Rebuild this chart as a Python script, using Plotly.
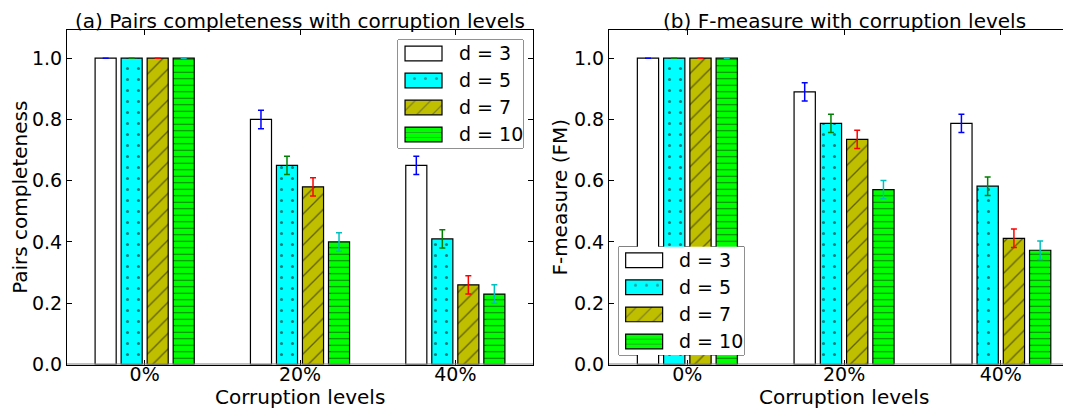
import plotly.graph_objects as go

categories = ["0%", "20%", "40%"]
series_names = ["d = 3", "d = 5", "d = 7", "d = 10"]

pc_values = {
    "d = 3": [1.0, 0.80, 0.65],
    "d = 5": [1.0, 0.65, 0.41],
    "d = 7": [1.0, 0.58, 0.26],
    "d = 10": [1.0, 0.40, 0.23],
}
pc_errors = {
    "d = 3": [0.0, 0.03, 0.03],
    "d = 5": [0.0, 0.03, 0.03],
    "d = 7": [0.0, 0.03, 0.03],
    "d = 10": [0.0, 0.03, 0.03],
}
fm_values = {
    "d = 3": [1.0, 0.89, 0.787],
    "d = 5": [1.0, 0.787, 0.582],
    "d = 7": [1.0, 0.735, 0.412],
    "d = 10": [1.0, 0.571, 0.373],
}
fm_errors = {
    "d = 3": [0.0, 0.03, 0.03],
    "d = 5": [0.0, 0.03, 0.03],
    "d = 7": [0.0, 0.03, 0.03],
    "d = 10": [0.0, 0.03, 0.03],
}

fill_colors = ["#FFFFFF", "#00FFFF", "#BFBF00", "#00FF00"]
pattern_shapes = ["", ".", "/", "-"]
pattern_sizes = [8, 11, 11, 6.5]
pattern_solidity = [0.1, 0.06, 0.12, 0.16]
err_colors = ["#0000FF", "#008000", "#FF0000", "#00BFBF"]

FONT = "DejaVu Sans"
OFF = 8            # page body margin offset
W, H = 1071 - OFF, 408 - OFF

def px_x(p):
    return (p - OFF) / W

def px_y(p):
    return (H - (p - OFF)) / H

fig = go.Figure()

for values, errors, xa, ya in [(pc_values, pc_errors, "x", "y"), (fm_values, fm_errors, "x2", "y2")]:
    for i, name in enumerate(series_names):
        fig.add_trace(go.Bar(
            x=categories, y=values[name], name=name, xaxis=xa, yaxis=ya,
            showlegend=False,
            marker=dict(
                color=fill_colors[i],
                line=dict(color="#000000", width=1.2),
                pattern=dict(shape=pattern_shapes[i], fgcolor="#000000",
                             bgcolor=fill_colors[i], size=pattern_sizes[i],
                             solidity=pattern_solidity[i], fillmode="overlay"),
            ),
            error_y=dict(type="data", array=errors[name], visible=True,
                         color=err_colors[i], thickness=1.5, width=3),
        ))

# legend-like swatch panels (one horizontal bar trace each)
for xa, ya in [("x3", "y3"), ("x4", "y4")]:
    fig.add_trace(go.Bar(
        y=series_names, x=[1] * len(series_names), orientation="h",
        xaxis=xa, yaxis=ya, showlegend=False, hoverinfo="skip",
        marker=dict(
            color=fill_colors,
            line=dict(color="#000000", width=1.2),
            pattern=dict(shape=pattern_shapes, fgcolor="#000000",
                         bgcolor=fill_colors, size=[8, 11, 11, 5],
                         solidity=pattern_solidity, fillmode="overlay"),
        ),
    ))
    for name in series_names:
        fig.add_annotation(x=1.4, y=name, xref=xa, yref=ya, text=name,
                           showarrow=False, xanchor="left", yanchor="middle",
                           font=dict(family=FONT, size=19, color="#000000"))
    fig.add_shape(type="rect", xref=xa + " domain", yref=ya + " domain",
                  x0=0, x1=1, y0=0, y1=1, layer="below",
                  line=dict(color="#222222", width=1), fillcolor="#FFFFFF")

ydom = [px_y(364.5), px_y(30)]
tickfont = dict(family=FONT, size=19, color="#000000")
titlefont = dict(family=FONT, size=20, color="#000000")

common_x = dict(type="category", showline=True, linecolor="#000000", linewidth=1,
                mirror="ticks", ticks="inside", ticklen=5, tickcolor="#000000",
                tickfont=tickfont, showgrid=False, zeroline=False, automargin=False,
                ticklabelstandoff=-7)
common_y = dict(range=[0, 1.092], showline=True, linecolor="#000000", linewidth=1,
                ticks="inside", ticklen=5, tickcolor="#000000", tickfont=tickfont,
                tickvals=[0, 0.2, 0.4, 0.6, 0.8, 1.0], tickformat=".1f",
                showgrid=False, zeroline=False, automargin=False)

fig.update_layout(
    template="none",
    width=W, height=H, autosize=False,
    margin=dict(l=0, r=0, t=0, b=0, pad=0),
    paper_bgcolor="#FFFFFF", plot_bgcolor="#FFFFFF",
    barmode="group", bargap=0.33, bargroupgap=0.19,
    font=dict(family=FONT, size=19, color="#000000"),
    xaxis=dict(common_x, domain=[px_x(67), px_x(533)], range=[-0.5, 2.5], anchor="y"),
    yaxis=dict(common_y, domain=ydom, anchor="x", mirror="ticks",
               title=dict(text="Pairs completeness", font=titlefont, standoff=0)),
    xaxis2=dict(common_x, domain=[px_x(609), 1.0], range=[-0.5, 2.448], anchor="y2"),
    yaxis2=dict(common_y, domain=ydom, anchor="x2", mirror=False,
                title=dict(text="F-measure (FM)", font=titlefont, standoff=0)),
    xaxis3=dict(domain=[px_x(398), px_x(523)], range=[-0.19, 3.19], visible=False,
                fixedrange=True, anchor="y3", automargin=False),
    yaxis3=dict(domain=[px_y(148), px_y(40)], type="category", categoryorder="array",
                categoryarray=series_names, range=[3.5, -0.5], visible=False, anchor="x3",
                automargin=False),
    xaxis4=dict(domain=[px_x(619), px_x(744)], range=[-0.18, 3.2], visible=False,
                fixedrange=True, anchor="y4", automargin=False),
    yaxis4=dict(domain=[px_y(355), px_y(246.7)], type="category", categoryorder="array",
                categoryarray=series_names, range=[3.5, -0.5], visible=False, anchor="x4",
                automargin=False),
)

# grey baseline at y=0 on both panels
for xa, ya in [("x", "y"), ("x2", "y2")]:
    fig.add_shape(type="line", xref=xa + " domain", yref=ya, x0=0, x1=1, y0=0, y1=0,
                  layer="above", line=dict(color="#808080", width=2))

# panel titles and x-axis titles
fig.add_annotation(x=0.5, y=px_y(21), xref="x domain", yref="paper",
                   text="(a) Pairs completeness with corruption levels", showarrow=False,
                   xanchor="center", yanchor="middle", font=titlefont)
fig.add_annotation(x=px_x(844), y=px_y(21), xref="paper", yref="paper",
                   text="(b) F-measure with corruption levels", showarrow=False,
                   xanchor="center", yanchor="middle", font=titlefont)
fig.add_annotation(x=0.5, y=px_y(397), xref="x domain", yref="paper",
                   text="Corruption levels", showarrow=False, borderpad=0,
                   xanchor="center", yanchor="middle", font=titlefont)
fig.add_annotation(x=px_x(844), y=px_y(397), xref="paper", yref="paper",
                   text="Corruption levels", showarrow=False, borderpad=0,
                   xanchor="center", yanchor="middle", font=titlefont)

fig.write_html("out.html")
